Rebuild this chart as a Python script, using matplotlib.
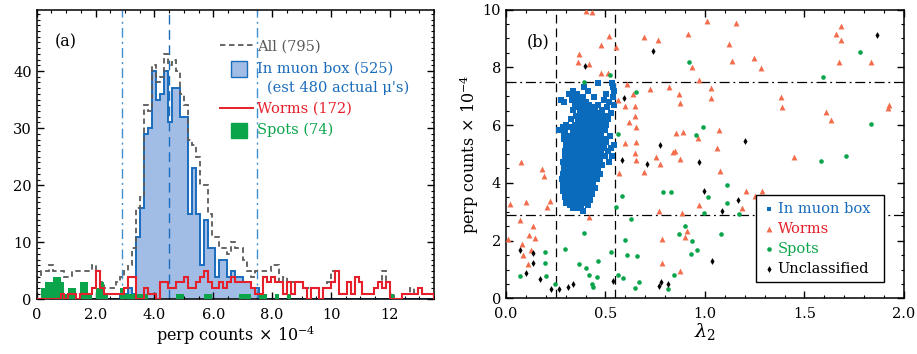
import numpy as np
import matplotlib
matplotlib.use("Agg")
import matplotlib.pyplot as plt
from matplotlib.patches import Rectangle
from matplotlib.ticker import MultipleLocator

plt.rcParams['font.family'] = ['DejaVu Serif']
plt.rcParams['mathtext.fontset'] = 'dejavuserif'

# ---- panel (a): histogram of perp counts (x 1e-4), 100 bins of 0.135 ----
bin_width = 0.135
n_bins = 100

all_counts = [4, 5, 5, 6, 5, 5, 5, 4, 4, 5, 5, 5, 5, 5, 6, 5, 3, 2, 2, 2,
              3, 4, 5, 6, 9, 16, 18, 34, 33, 41, 38, 39, 43, 41, 42, 40, 36, 34, 28, 27,
              25, 20, 20, 15, 11, 11, 9, 9, 8, 10, 9, 9, 7, 5, 4, 5, 5, 5, 5, 6,
              6, 3, 4, 3, 3, 3, 3, 2, 2, 2, 2, 2, 2, 3, 5, 5, 1, 1, 3, 1,
              4, 3, 1, 1, 1, 2, 3, 5, 3, 1, 0, 0, 1, 1, 2, 1, 2, 1, 1, 1]

muon_counts = [0] * 21 + [1, 1, 2, 1, 11, 16, 29, 30, 40, 35, 36, 40, 31, 37, 37, 32, 32,
                          15, 23, 15, 6, 14, 9, 9, 4, 7, 7, 4, 5, 4, 4, 3, 3, 2, 2] + [0] * 44

worm_counts = [0, 0, 0, 0, 0, 0, 1, 0, 1, 1, 0, 1, 1, 1, 2, 5, 2, 1, 1, 1,
               1, 1, 2, 4, 4, 0, 0, 2, 1, 1, 0, 3, 3, 2, 2, 3, 3, 4, 2, 2,
               3, 4, 5, 3, 2, 2, 3, 2, 3, 4, 3, 3, 3, 3, 2, 1, 1, 4, 3, 4,
               3, 3, 1, 3, 1, 3, 3, 2, 0, 2, 2, 0, 2, 2, 3, 5, 1, 1, 3, 1,
               4, 3, 1, 1, 1, 2, 3, 2, 3, 0, 0, 0, 1, 1, 1, 1, 2, 1, 1, 1]

spot_counts = [0, 2, 3, 3, 4, 4, 3, 1, 2, 2, 0, 3, 3, 1, 0, 2, 3, 1, 0, 0,
               0, 2, 1, 1, 1, 1, 1, 1, 0, 0, 0, 0, 0, 0, 0, 1, 1, 0, 0, 0,
               0, 0, 1, 1, 0, 0, 0, 0, 0, 0, 0, 1, 1, 1, 0, 0, 1, 1, 0, 0,
               1, 0, 0, 1, 0, 0, 0, 0, 0, 0, 0, 0, 0, 0, 0, 0, 0, 0, 0, 0,
               0, 0, 0, 0, 0, 0, 0, 0, 0, 1, 0, 0, 0, 0, 0, 0, 0, 0, 0, 0]

perp_cut = [2.9, 7.5]
perp_mid = 4.5
lam_cut = [0.25, 0.55]

# ---- panel (b): lambda_2 vs perp counts ----
# muon box points, read row by row: (perp, [lambda_2 values])
muon_rows = [
    (7.45, [0.462, 0.532]),
    (7.32, [0.392, 0.536]),
    (7.18, [0.335, 0.41, 0.545]),
    (7.08, [0.318, 0.358, 0.505]),
    (6.98, [0.345, 0.385, 0.44, 0.54]),
    (6.88, [0.277, 0.33, 0.372, 0.49]),
    (6.80, [0.29, 0.355, 0.40, 0.52]),
    (6.70, [0.345, 0.38, 0.415, 0.46, 0.545]),
    (6.62, [0.36, 0.395, 0.43, 0.51]),
    (6.52, [0.335, 0.375, 0.40, 0.445, 0.48]),
    (6.42, [0.37, 0.39, 0.42, 0.47, 0.53]),
    (6.33, [0.35, 0.385, 0.405, 0.44, 0.50]),
    (6.22, [0.325, 0.37, 0.395, 0.43, 0.465, 0.515]),
    (6.12, [0.36, 0.385, 0.415, 0.45, 0.49]),
    (6.02, [0.30, 0.345, 0.375, 0.40, 0.43, 0.47, 0.505]),
    (5.92, [0.285, 0.32, 0.365, 0.39, 0.415, 0.44, 0.485]),
    (5.82, [0.268, 0.295, 0.335, 0.37, 0.40, 0.425, 0.455, 0.50]),
    (5.72, [0.29, 0.34, 0.365, 0.385, 0.41, 0.435, 0.47]),
    (5.62, [0.305, 0.32, 0.355, 0.38, 0.40, 0.42, 0.445, 0.475, 0.525]),
    (5.52, [0.29, 0.33, 0.35, 0.37, 0.39, 0.41, 0.435, 0.455, 0.49]),
    (5.42, [0.31, 0.335, 0.355, 0.375, 0.395, 0.415, 0.44, 0.46, 0.505]),
    (5.32, [0.30, 0.32, 0.34, 0.36, 0.38, 0.40, 0.42, 0.445, 0.47, 0.545]),
    (5.22, [0.31, 0.33, 0.35, 0.37, 0.39, 0.41, 0.43, 0.455, 0.49, 0.53]),
    (5.12, [0.295, 0.32, 0.34, 0.36, 0.38, 0.40, 0.42, 0.44, 0.465, 0.515]),
    (5.02, [0.305, 0.325, 0.345, 0.365, 0.385, 0.405, 0.425, 0.445, 0.475]),
    (4.92, [0.295, 0.315, 0.335, 0.355, 0.375, 0.395, 0.415, 0.435, 0.46, 0.50, 0.535]),
    (4.82, [0.30, 0.32, 0.34, 0.36, 0.38, 0.40, 0.42, 0.445, 0.47]),
    (4.72, [0.285, 0.31, 0.33, 0.35, 0.37, 0.39, 0.41, 0.43, 0.455, 0.52]),
    (4.62, [0.30, 0.32, 0.34, 0.36, 0.38, 0.40, 0.42, 0.44, 0.48]),
    (4.52, [0.29, 0.31, 0.33, 0.35, 0.37, 0.39, 0.41, 0.435, 0.46]),
    (4.42, [0.30, 0.32, 0.34, 0.36, 0.38, 0.40, 0.42, 0.445]),
    (4.32, [0.285, 0.31, 0.33, 0.35, 0.37, 0.39, 0.41, 0.43, 0.47]),
    (4.22, [0.295, 0.315, 0.335, 0.355, 0.375, 0.395, 0.415, 0.44]),
    (4.12, [0.28, 0.305, 0.325, 0.345, 0.365, 0.385, 0.405, 0.425, 0.455]),
    (4.02, [0.29, 0.31, 0.33, 0.35, 0.37, 0.39, 0.41, 0.435]),
    (3.92, [0.285, 0.30, 0.32, 0.34, 0.36, 0.38, 0.40, 0.42]),
    (3.82, [0.295, 0.315, 0.335, 0.355, 0.375, 0.395, 0.415, 0.445]),
    (3.72, [0.285, 0.305, 0.325, 0.345, 0.365, 0.385, 0.405]),
    (3.62, [0.30, 0.32, 0.34, 0.36, 0.38, 0.40, 0.43]),
    (3.52, [0.295, 0.315, 0.335, 0.355, 0.375, 0.395]),
    (3.42, [0.31, 0.33, 0.35, 0.37, 0.395, 0.42]),
    (3.32, [0.30, 0.325, 0.345, 0.37, 0.39]),
    (3.22, [0.32, 0.345, 0.375, 0.41]),
    (3.12, [0.335, 0.365]),
    (3.02, [0.385]),
]

worms_pts = [
    (0.400, 9.94), (0.433, 9.90), (0.517, 9.07), (0.475, 8.76), (0.553, 8.69),
    (0.367, 8.46), (0.362, 8.17), (0.417, 8.12), (0.475, 7.82), (0.513, 7.82),
    (0.695, 9.04), (0.762, 8.93), (0.917, 9.16), (0.933, 8.01), (1.008, 9.62),
    (0.970, 7.55), (0.608, 7.42), (0.637, 7.07), (0.562, 6.88), (0.597, 6.67),
    (0.648, 6.67), (0.725, 7.26), (0.650, 6.30), (0.620, 6.10), (0.653, 5.95),
    (0.817, 7.31), (0.870, 7.06), (0.875, 6.78), (0.600, 5.37), (0.655, 5.41),
    (0.647, 5.05), (0.653, 4.80), (0.752, 4.89), (0.775, 4.66), (0.695, 4.38),
    (0.568, 4.34), (0.837, 5.06), (0.847, 5.12), (0.853, 5.72), (0.892, 5.76),
    (0.967, 5.55), (0.875, 4.82), (0.075, 4.71), (0.182, 4.49), (0.193, 4.25),
    (0.022, 3.27), (0.102, 3.33), (0.222, 3.37), (0.207, 3.18), (0.417, 2.81),
    (0.767, 3.03), (0.885, 2.95), (0.968, 3.22), (0.068, 2.70), (0.137, 2.52),
    (0.012, 2.07), (0.115, 2.20), (0.148, 2.10), (0.082, 1.89), (0.125, 1.68),
    (0.085, 1.51), (0.112, 1.18), (0.783, 2.07), (0.783, 1.24), (0.875, 0.96),
    (0.902, 2.14), (0.908, 2.35),
    (1.158, 9.53), (1.120, 8.81), (1.137, 8.23), (1.245, 8.32), (1.283, 7.97),
    (1.658, 9.15), (1.683, 9.42), (1.683, 8.93), (1.672, 8.17), (1.832, 8.18),
    (1.028, 7.30), (1.028, 6.93), (1.380, 6.96), (1.387, 6.61), (1.608, 6.45),
    (1.635, 6.18), (1.925, 6.70), (1.918, 6.59), (1.072, 5.84), (1.058, 5.20),
    (1.445, 4.89), (1.075, 4.42), (1.208, 3.73), (1.288, 3.72), (1.250, 3.56),
    (1.185, 3.12),
]

spots_pts = [
    (0.525, 7.74), (0.392, 7.50), (0.653, 7.13), (0.918, 8.18), (0.565, 5.69),
    (0.992, 5.93), (0.953, 5.66), (0.788, 3.67), (0.828, 3.67), (0.583, 3.55),
    (0.553, 3.18), (1.013, 3.50), (0.995, 2.95), (0.627, 2.74), (0.392, 2.25),
    (0.597, 2.03), (0.900, 2.49), (0.867, 2.22), (0.937, 1.98), (0.958, 1.68),
    (0.928, 1.54), (0.530, 1.60), (0.608, 1.51), (0.660, 1.47), (0.298, 1.70),
    (0.198, 1.61), (0.195, 1.22), (0.200, 0.76), (0.068, 0.76), (0.368, 1.18),
    (0.402, 1.07), (0.417, 0.81), (0.455, 0.73), (0.462, 1.28), (0.430, 0.50),
    (0.438, 0.41), (0.563, 0.81), (0.587, 0.72), (0.650, 0.36), (0.670, 0.57),
    (0.812, 0.32), (0.842, 0.80), (0.247, 0.49),
    (1.595, 7.66), (1.777, 8.52), (1.832, 6.03), (1.582, 4.76), (1.710, 4.94),
    (1.112, 3.91), (1.112, 3.30), (1.170, 2.93), (1.080, 2.22),
]

uncl_pts = [
    (0.397, 8.06), (0.737, 8.55), (0.592, 6.94), (0.775, 5.30), (0.585, 4.78),
    (0.707, 4.66), (0.972, 4.71), (0.997, 3.73), (0.070, 1.68), (0.138, 1.57),
    (0.137, 1.24), (0.103, 0.87), (0.172, 0.66), (0.225, 0.32), (0.267, 0.32),
    (0.313, 0.39), (0.337, 0.50), (0.538, 0.62), (0.770, 0.43), (0.778, 0.58),
    (0.815, 0.51), (1.865, 9.11), (1.200, 5.46), (1.165, 3.39), (1.087, 3.04),
    (1.037, 1.30),
]

c_fill = '#a1bde6'
c_blue = '#1a6cbc'
c_vline = '#3f8fd0'
c_red = '#e5202a'
c_green = '#0aa54b'
c_gray = '#5a5a5a'
c_worm = '#f36d4c'
c_sq = '#0a6abb'

fig = plt.figure(figsize=(9.17, 3.54), dpi=100)
ax1 = fig.add_axes([0.0400, 0.154, 0.4333, 0.818])
ax2 = fig.add_axes([0.5518, 0.157, 0.4340, 0.816])

edges = np.arange(n_bins + 1) * bin_width

# panel (a)
ax1.stairs(muon_counts, edges, fill=True, color=c_fill, zorder=1)
ax1.stairs(muon_counts, edges, color=c_blue, lw=1.4, zorder=2)
ax1.stairs(all_counts, edges, color=c_gray, lw=1.3, ls=(0, (3, 2)), zorder=2.5)
ax1.stairs(spot_counts, edges, fill=True, color=c_green, zorder=3)
ax1.stairs(worm_counts, edges, color=c_red, lw=1.5, zorder=4)
for p in perp_cut:
    ax1.axvline(p, color=c_vline, lw=1.0, ls=(0, (7, 3, 1.5, 3)), zorder=2.2)
ax1.axvline(perp_mid, color=c_blue, lw=1.0, ls=(0, (7, 4)), zorder=2.2)

ax1.set_xlim(0, 13.5)
ax1.set_ylim(0, 50.7)
ax1.set_xticks([0, 2, 4, 6, 8, 10, 12])
ax1.set_xticklabels(['0', '2.0', '4.0', '6.0', '8.0', '10', '12'])
ax1.set_yticks([0, 10, 20, 30, 40])
ax1.xaxis.set_minor_locator(MultipleLocator(0.5))
ax1.yaxis.set_minor_locator(MultipleLocator(1))
ax1.set_xlabel(r'perp counts$\,\times\,10^{-4}$', fontsize=11.5, labelpad=1)
ax1.text(0.046, 0.89, '(a)', transform=ax1.transAxes, fontsize=11.5, va='center')

# legend (a), drawn by hand
ta = ax1.transAxes
ax1.plot([0.461, 0.544], [0.879, 0.879], transform=ta, color=c_gray, lw=1.3, ls=(0, (3, 2)))
ax1.add_patch(Rectangle((0.488, 0.768), 0.042, 0.056, transform=ta, facecolor=c_fill,
                        edgecolor=c_blue, lw=1.0))
ax1.plot([0.461, 0.544], [0.660, 0.660], transform=ta, color=c_red, lw=1.4)
ax1.add_patch(Rectangle((0.488, 0.557), 0.042, 0.054, transform=ta, facecolor=c_green,
                        edgecolor=c_green, lw=1.0))
leg_a = [(0.5545, 0.874, 'All (795)', c_gray),
         (0.5545, 0.796, 'In muon box (525)', c_blue),
         (0.5797, 0.731, "(est 480 actual \u03bc's)", c_blue),
         (0.5545, 0.658, 'Worms (172)', c_red),
         (0.5545, 0.585, 'Spots (74)', c_green)]
for x, y, s, c in leg_a:
    ax1.text(x, y, s, transform=ta, color=c, fontsize=10.5, va='center')

# panel (b)
mu_l = [l for p, ls in muon_rows for l in ls]
mu_p = [p for p, ls in muon_rows for l in ls]
ax2.scatter(mu_l, mu_p, marker='s', s=14, color=c_sq, lw=0, zorder=3)
ax2.scatter([a for a, b in worms_pts], [b for a, b in worms_pts], marker='^', s=18,
            color=c_worm, lw=0, zorder=3)
ax2.scatter([a for a, b in spots_pts], [b for a, b in spots_pts], marker='o', s=11,
            color=c_green, lw=0, zorder=3)
ax2.scatter([a for a, b in uncl_pts], [b for a, b in uncl_pts], marker='d', s=12,
            color='black', lw=0, zorder=3)
for l in lam_cut:
    ax2.axvline(l, color='black', lw=0.9, ls=(0, (7, 4)), zorder=2)
for p in perp_cut:
    ax2.axhline(p, color='black', lw=0.9, ls=(0, (8, 3, 1.5, 3)), zorder=2)

ax2.set_xlim(0, 2.0)
ax2.set_ylim(0, 10)
ax2.set_xticks([0, 0.5, 1.0, 1.5, 2.0])
ax2.set_xticklabels(['0.0', '0.5', '1.0', '1.5', '2.0'])
ax2.set_yticks([0, 2, 4, 6, 8, 10])
ax2.xaxis.set_minor_locator(MultipleLocator(0.1))
ax2.yaxis.set_minor_locator(MultipleLocator(0.5))
ax2.set_xlabel(r'$\lambda_2$', fontsize=14, labelpad=0)
ax2.set_ylabel(r'perp counts$\,\times\,10^{-4}$', fontsize=11.5, labelpad=1)
ax2.text(0.053, 0.888, '(b)', transform=ax2.transAxes, fontsize=11.5, va='center')

tb = ax2.transAxes
ax2.add_patch(Rectangle((0.628, 0.058), 0.323, 0.300, transform=tb, facecolor='white',
                        edgecolor='black', lw=1.0, zorder=5))
leg_b = [(0.309, 's', c_sq, 'In muon box', c_blue, 11),
         (0.2395, '^', c_worm, 'Worms', c_red, 18),
         (0.170, 'o', c_green, 'Spots', c_green, 11),
         (0.101, 'd', 'black', 'Unclassified', 'black', 12)]
for y, m, mc, s, tc, ms in leg_b:
    ax2.scatter([0.661], [y], transform=tb, marker=m, s=ms, color=mc, lw=0, zorder=6)
    ax2.text(0.683, y, s, transform=tb, color=tc, fontsize=10.5, va='center', zorder=6)

for ax in (ax1, ax2):
    ax.tick_params(which='both', direction='in', top=True, right=True, labelsize=10.5)
    ax.tick_params(which='major', length=5, width=1.0)
    ax.tick_params(which='minor', length=2.5, width=0.8)
    ax.tick_params(axis='x', which='major', pad=6)
    for sp in ax.spines.values():
        sp.set_linewidth(1.1)

fig.savefig('out.png', dpi=100)
